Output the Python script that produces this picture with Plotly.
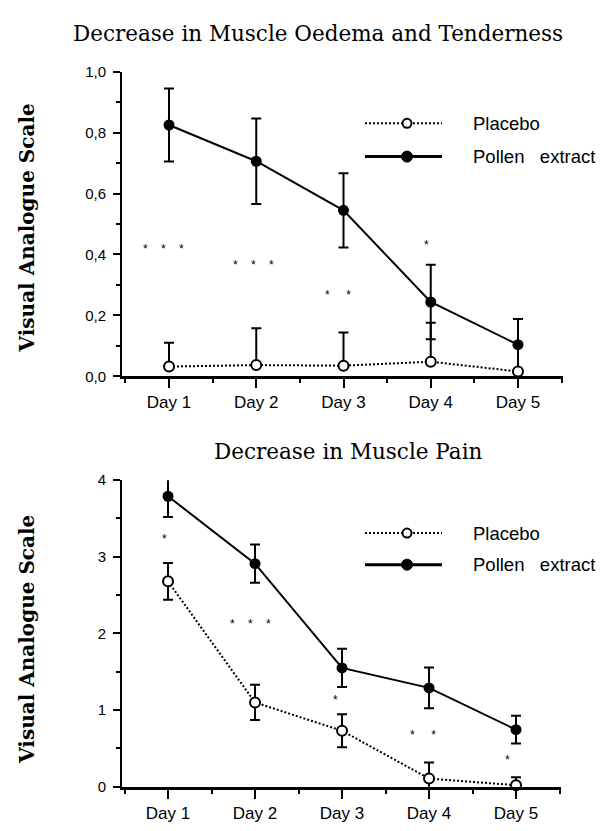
import plotly.graph_objects as go

W, H = 603, 831

days = [1, 2, 3, 4, 5]
day_labels = ["Day\u00a01", "Day\u00a02", "Day\u00a03", "Day\u00a04", "Day\u00a05"]

# Panel 1: Decrease in Muscle Oedema and Tenderness
oed_placebo = [0.032, 0.037, 0.035, 0.048, 0.016]
oed_placebo_err_up = [0.078, 0.121, 0.109, 0.128, 0.0]
oed_placebo_err_down = [0.0, 0.0, 0.0, 0.0, 0.0]
oed_pollen = [0.825, 0.706, 0.545, 0.244, 0.104]
oed_pollen_err = [0.12, 0.14, 0.122, 0.122, 0.084]
oed_sig_x = [0.94, 1.97, 2.94, 3.95]
oed_sig_y = [0.428, 0.374, 0.278, 0.442]
oed_sig_text = ["*\u00a0\u00a0\u00a0\u00a0*\u00a0\u00a0\u00a0\u00a0*",
                "*\u00a0\u00a0\u00a0\u00a0*\u00a0\u00a0\u00a0\u00a0*",
                "*\u00a0\u00a0\u00a0\u00a0\u00a0*", "*"]

# Panel 2: Decrease in Muscle Pain
pain_placebo = [2.68, 1.10, 0.73, 0.107, 0.02]
pain_placebo_err = [0.24, 0.23, 0.215, 0.21, 0.105]
pain_pollen = [3.79, 2.91, 1.55, 1.29, 0.745]
pain_pollen_err = [0.27, 0.25, 0.25, 0.265, 0.18]
pain_sig_x = [0.96, 1.95, 2.92, 3.93, 4.90]
pain_sig_y = [3.27, 2.16, 1.17, 0.72, 0.39]
pain_sig_text = ["*", "*\u00a0\u00a0\u00a0\u00a0*\u00a0\u00a0\u00a0\u00a0*", "*",
                 "*\u00a0\u00a0\u00a0\u00a0\u00a0*", "*"]

SANS = "Liberation Sans, Arial, sans-serif"
SERIF = "DejaVu Serif, serif"


def px(x):
    return x / W


def py(y):
    return (H - y) / H


fig = go.Figure()


def add_panel(xa, ya, pla, pla_up, pla_dn, pol, pol_err):
    # error bars (clipped to plot area)
    fig.add_trace(go.Scatter(
        x=days, y=pol, mode="markers", xaxis=xa, yaxis=ya,
        marker=dict(size=1, opacity=0), showlegend=False, hoverinfo="skip",
        error_y=dict(type="data", array=pol_err, symmetric=True,
                     color="black", thickness=2, width=5)))
    fig.add_trace(go.Scatter(
        x=days, y=pla, mode="markers", xaxis=xa, yaxis=ya,
        marker=dict(size=1, opacity=0), showlegend=False, hoverinfo="skip",
        error_y=dict(type="data", array=pla_up, arrayminus=pla_dn, symmetric=False,
                     color="black", thickness=2, width=5)))
    fig.add_trace(go.Scatter(
        x=days, y=pol, mode="lines+markers", xaxis=xa, yaxis=ya,
        line=dict(color="black", width=2),
        marker=dict(size=11, color="black"),
        cliponaxis=False, showlegend=False, name="Pollen extract"))
    fig.add_trace(go.Scatter(
        x=days, y=pla, mode="lines+markers", xaxis=xa, yaxis=ya,
        line=dict(color="black", width=2, dash="2px,2px"),
        marker=dict(size=10, color="white", line=dict(color="black", width=2)),
        cliponaxis=False, showlegend=False, name="Placebo"))


add_panel("x", "y", oed_placebo, oed_placebo_err_up, oed_placebo_err_down,
          oed_pollen, oed_pollen_err)
add_panel("x2", "y2", pain_placebo, pain_placebo_err, pain_placebo_err,
          pain_pollen, pain_pollen_err)

xcommon = dict(tickmode="array", tickvals=days, ticktext=day_labels,
               ticks="outside", ticklen=9, tickwidth=2, tickcolor="black",
               showline=True, linewidth=2.5, linecolor="black",
               showgrid=False, zeroline=False,
               tickfont=dict(family=SANS, size=17, color="black"),
               minor=dict(tick0=0.5, dtick=1, ticks="outside", ticklen=4,
                          tickwidth=1.5, tickcolor="black", showgrid=False))
ycommon = dict(ticks="outside", ticklen=7, tickwidth=2, tickcolor="black",
               showline=True, linewidth=2, linecolor="black",
               showgrid=False, zeroline=False,
               tickfont=dict(family=SANS, size=15, color="black"),
               ticklabelstandoff=4)

fig.update_layout(
    width=W, height=H,
    margin=dict(l=0, r=0, t=0, b=0),
    paper_bgcolor="white", plot_bgcolor="white",
    separators=",.",
    showlegend=False,
    xaxis=dict(domain=[px(122), px(563)], range=[0.461, 5.516], anchor="y", **xcommon),
    yaxis=dict(domain=[py(375), py(64)], range=[0, 1], anchor="x",
               tickmode="linear", tick0=0, dtick=0.2, tickformat=".1f",
               minor=dict(tick0=0, dtick=0.1, ticks="outside", ticklen=4,
                          tickwidth=1.5, tickcolor="black", showgrid=False),
               **ycommon),
    xaxis2=dict(domain=[px(122), px(561)], range=[0.471, 5.517], anchor="y2", **xcommon),
    yaxis2=dict(domain=[py(794), py(481)], range=[0, 4], anchor="x2",
                tickmode="linear", tick0=0, dtick=1,
                minor=dict(tick0=0, dtick=0.5, ticks="outside", ticklen=4,
                           tickwidth=1.5, tickcolor="black", showgrid=False),
                **ycommon),
)

annotations = []
# titles
annotations.append(dict(text="Decrease in Muscle Oedema and Tenderness", x=px(318), y=py(25),
                        xref="paper", yref="paper", showarrow=False,
                        xanchor="center", yanchor="middle",
                        font=dict(family=SERIF, size=21.5, color="black")))
annotations.append(dict(text="Decrease in Muscle Pain", x=px(348), y=py(452),
                        xref="paper", yref="paper", showarrow=False,
                        xanchor="center", yanchor="middle",
                        font=dict(family=SERIF, size=21.5, color="black")))
for yc in (224, 644):
    annotations.append(dict(text="<b>Visual Analogue Scale</b>", x=px(27), y=py(yc),
                            xref="paper", yref="paper", showarrow=False, textangle=-90,
                            xanchor="center", yanchor="middle",
                            font=dict(family=SERIF, size=20, color="black")))
# significance stars
for xs, ys, ts, xr, yr in ((oed_sig_x, oed_sig_y, oed_sig_text, "x", "y"),
                           (pain_sig_x, pain_sig_y, pain_sig_text, "x2", "y2")):
    for xv, yv, tv in zip(xs, ys, ts):
        annotations.append(dict(text=tv, x=xv, y=yv, xref=xr, yref=yr, showarrow=False,
                                xanchor="center", yanchor="middle",
                                yshift=-3, font=dict(family=SANS, size=12, color="black")))

shapes = []
# legends
for (ypl, ypo) in ((116.7, 150.7), (535, 567.3)):
    shapes.append(dict(type="line", xref="paper", yref="paper", x0=px(365), x1=px(442),
                       y0=py(ypl), y1=py(ypl), line=dict(color="black", width=2, dash="2px,2px")))
    shapes.append(dict(type="line", xref="paper", yref="paper", x0=px(365), x1=px(442),
                       y0=py(ypo), y1=py(ypo), line=dict(color="black", width=3)))
    shapes.append(dict(type="circle", xref="paper", yref="paper", xsizemode="pixel",
                       ysizemode="pixel", xanchor=px(407), yanchor=py(ypl),
                       x0=-4.5, x1=4.5, y0=-4.5, y1=4.5, fillcolor="white",
                       line=dict(color="black", width=2)))
    shapes.append(dict(type="circle", xref="paper", yref="paper", xsizemode="pixel",
                       ysizemode="pixel", xanchor=px(407), yanchor=py(ypo),
                       x0=-5.5, x1=5.5, y0=-5.5, y1=5.5, fillcolor="black",
                       line=dict(color="black", width=1)))
    annotations.append(dict(text="Placebo", x=px(471), y=py(ypl), xref="paper", yref="paper",
                            xanchor="left", yanchor="middle", showarrow=False,
                            font=dict(family=SANS, size=18.5, color="black")))
    annotations.append(dict(text="Pollen\u00a0\u00a0\u00a0extract", x=px(471), y=py(ypo),
                            xref="paper", yref="paper", xanchor="left", yanchor="middle",
                            showarrow=False,
                            font=dict(family=SANS, size=18.5, color="black")))

fig.update_layout(annotations=annotations, shapes=shapes)

fig.write_html("out.html", config={"displayModeBar": False},
               post_script="document.body.style.margin='0px';")
